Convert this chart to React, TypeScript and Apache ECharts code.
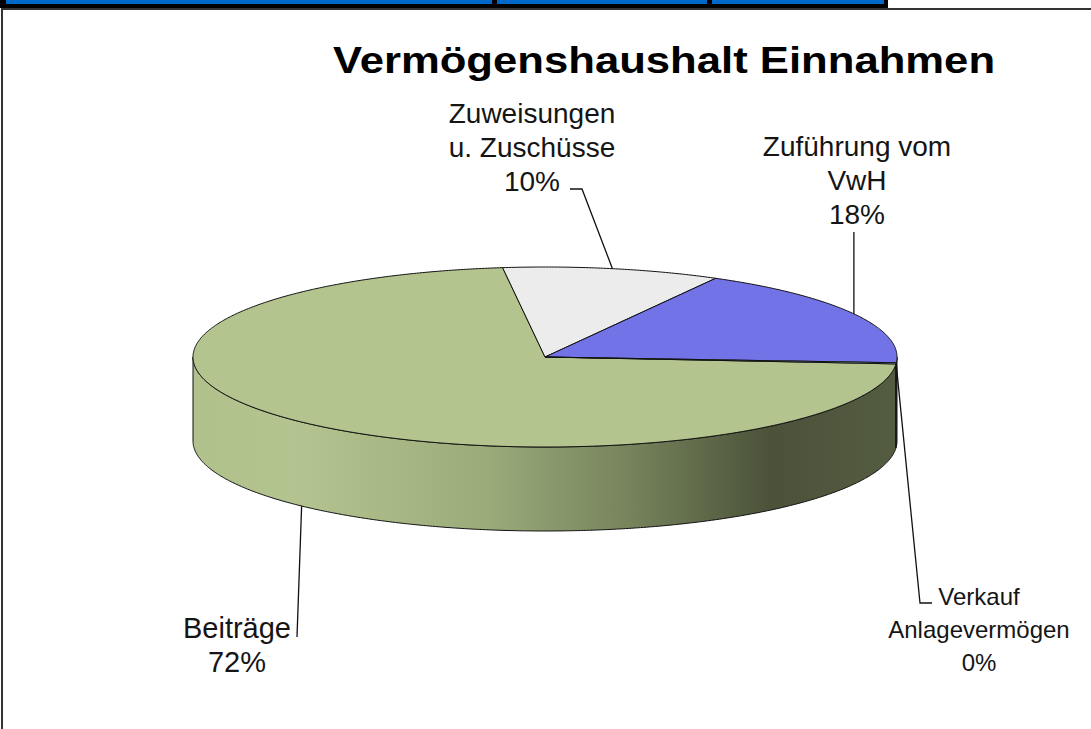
import React, { useEffect, useRef } from "react";
import * as echarts from "echarts";

// ---- data ----
const TITLE = "Vermögenshaushalt Einnahmen";
const categories = ["Beiträge", "Zuweisungen\nu. Zuschüsse", "Zuführung vom\nVwH", "Verkauf\nAnlagevermögen"];
const values = [72, 10, 18, 0.2];
const colors = ["#b3c48e", "#ececec", "#7373e8", "#ccffff"];

// ---- layout (not data) ----
const FONT = "'Liberation Sans', Arial, sans-serif";
const CX = 545;
const CY = 357;
const RX = 352;
const RY = 90;
const DEPTH = 84;
const START_ANGLE = -4.4; // degrees, slices go clockwise
type LabelLayout = { x: number; y: number; size: number; lh: number; anchorOnBottom: boolean; via: number[][] };
const labelLayout: LabelLayout[] = [
  { x: 237, y: 645, size: 29, lh: 34, anchorOnBottom: true, via: [[297, 637]] },
  { x: 532, y: 147, size: 28, lh: 34, anchorOnBottom: false, via: [[570, 189], [582, 189]] },
  { x: 857, y: 180, size: 28, lh: 34, anchorOnBottom: false, via: [[854, 232]] },
  { x: 979, y: 629, size: 24, lh: 33, anchorOnBottom: false, via: [[920, 603], [932, 603]] },
];

const total = values.reduce((a, b) => a + b, 0);

function pt(deg: number, dy = 0): number[] {
  const r = (deg * Math.PI) / 180;
  return [CX + RX * Math.cos(r), CY - RY * Math.sin(r) + dy];
}
function arcPts(a: number, b: number, dy = 0): number[][] {
  const n = Math.max(2, Math.ceil(Math.abs(b - a) / 0.5));
  const out: number[][] = [];
  for (let i = 0; i <= n; i++) out.push(pt(a + ((b - a) * i) / n, dy));
  return out;
}

const sideGradient = new echarts.graphic.LinearGradient(
  CX - RX,
  0,
  CX + RX,
  0,
  [
    { offset: 0, color: "#b1c18c" },
    { offset: 0.15, color: "#b4c490" },
    { offset: 0.42, color: "#9aab7a" },
    { offset: 0.62, color: "#76835c" },
    { offset: 0.82, color: "#4b5239" },
    { offset: 1, color: "#545c41" },
  ],
  true
);

function renderItem(params: any, api: any) {
  const idx = params.dataIndex;
  const v = api.value(0);
  let cum = 0;
  for (let i = 0; i < idx; i++) cum += values[i];
  const aStart = START_ANGLE - (cum / total) * 360;
  const aEnd = aStart - (v / total) * 360;
  const children: any[] = [];

  // side walls (front half: angles in [k*360-180, k*360])
  for (const k of [-1, 0, 1]) {
    const lo = Math.max(aEnd, k * 360 - 180);
    const hi = Math.min(aStart, k * 360);
    if (hi > lo) {
      const top = arcPts(hi, lo, 0);
      const bot = arcPts(lo, hi, DEPTH);
      children.push({
        type: "polygon",
        z2: 1,
        shape: { points: top.concat(bot) },
        style: {
          fill: idx === 0 ? sideGradient : colors[idx],
          stroke: "#111",
          lineWidth: 1,
        },
      });
    }
  }

  // top face
  children.push({
    type: "polygon",
    z2: 5,
    shape: { points: [[CX, CY]].concat(arcPts(aStart, aEnd, 0)) },
    style: { fill: colors[idx], stroke: "#111", lineWidth: 1 },
  });

  // label + leader
  const L = labelLayout[idx];
  const mid = (aStart + aEnd) / 2;
  const anchor = pt(mid, L.anchorOnBottom ? DEPTH : 0);
  let linePts: number[][];
  if (idx === 1) linePts = [L.via[0], L.via[1], anchor];
  else if (idx === 2) linePts = [[anchor[0], L.via[0][1]], anchor];
  else linePts = [anchor].concat(L.via);
  children.push({
    type: "polyline",
    z2: 10,
    shape: { points: linePts },
    style: { stroke: "#111", lineWidth: 1.3, fill: null },
  });
  const pct = Math.round((v / total) * 100);
  children.push({
    type: "text",
    z2: 10,
    style: {
      text: `${categories[idx]}\n${pct}%`,
      x: L.x,
      y: L.y,
      align: "center",
      verticalAlign: "middle",
      fontSize: L.size,
      lineHeight: L.lh,
      fontFamily: FONT,
      fill: "#151515",
    },
  });

  return { type: "group", children };
}

export default function App() {
  const ref = useRef<HTMLDivElement>(null);
  useEffect(() => {
    document.body.style.margin = "0";
    if (!ref.current) return;
    const chart = echarts.init(ref.current, undefined, { renderer: "svg" });
    chart.setOption({
      animation: false,
      backgroundColor: "#ffffff",
      graphic: [
        { type: "rect", z: 0, shape: { x: 0, y: 0, width: 888, height: 8 }, style: { fill: "#000" } },
        { type: "rect", z: 0, shape: { x: 6, y: 0, width: 486, height: 4 }, style: { fill: "#0068c8" } },
        { type: "rect", z: 0, shape: { x: 497, y: 0, width: 210, height: 4 }, style: { fill: "#0068c8" } },
        { type: "rect", z: 0, shape: { x: 712, y: 0, width: 172, height: 4 }, style: { fill: "#0068c8" } },
        {
          type: "rect",
          z: 0,
          shape: { x: 2, y: 9, width: 1200, height: 800 },
          style: { fill: "#fff", stroke: "#333", lineWidth: 2 },
        },
        {
          type: "text",
          z: 5,
          x: 664,
          y: 60,
          scaleX: 1.18,
          style: {
            text: TITLE,
            fontSize: 37,
            fontWeight: "bold",
            fontFamily: FONT,
            fill: "#000",
            align: "center",
            verticalAlign: "middle",
          },
        },
      ],
      series: [
        {
          type: "custom",
          coordinateSystem: "none",
          silent: true,
          z: 3,
          renderItem,
          data: values.map((v, i) => [v, i]),
        },
      ],
    });
    return () => chart.dispose();
  }, []);
  return <div ref={ref} style={{ width: 1091, height: 729 }} />;
}
